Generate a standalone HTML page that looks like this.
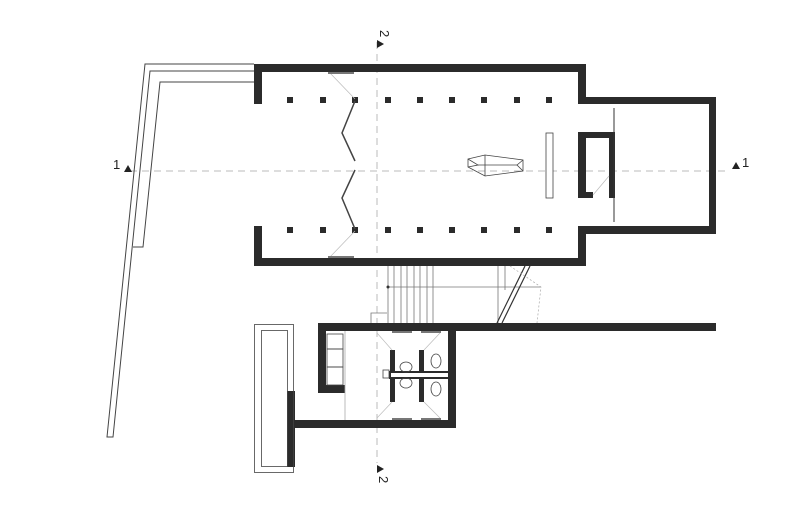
<!DOCTYPE html>
<html><head><meta charset="utf-8"><style>
html,body{margin:0;padding:0;background:#fff;}
svg{display:block;}
text{font-family:"Liberation Sans",sans-serif;font-size:13px;fill:#222;}
</style></head><body>
<svg width="800" height="532" viewBox="0 0 800 532" xmlns="http://www.w3.org/2000/svg">
<g stroke="#bbb" stroke-width="1" stroke-dasharray="7,5" fill="none">
<line x1="130" y1="171" x2="730" y2="171"/>
<line x1="377" y1="42" x2="377" y2="463"/>
</g>
<text x="113" y="169">1</text>
<polygon points="124,172 128,165 132,172" fill="#222"/>
<polygon points="732,169 736,162 740,169" fill="#222"/>
<text x="742" y="167">1</text>
<polygon points="377,40 377,48 384,44" fill="#222"/>
<text transform="translate(380,30) rotate(90)" x="0" y="0">2</text>
<polygon points="377,465 377,473 384,469" fill="#222"/>
<text transform="translate(379,476) rotate(90)" x="0" y="0">2</text>

<g stroke="#444" stroke-width="1" fill="none">
<polyline points="254,64 145,64 107,437 113,437 150,71 254,71"/>
<polyline points="254,82 160,82 143,247 133,247"/>
</g>

<g fill="#2b2b2b">
<rect x="254" y="64" width="332" height="8"/>
<rect x="254" y="64" width="8" height="40"/>
<rect x="254" y="226" width="8" height="40"/>
<rect x="254" y="258" width="332" height="8"/>
<rect x="578" y="64" width="8" height="40"/>
<rect x="578" y="97" width="138" height="7"/>
<rect x="709" y="97" width="7" height="137"/>
<rect x="578" y="226" width="138" height="8"/>
<rect x="578" y="226" width="8" height="40"/>
<rect x="578" y="132" width="8" height="66"/>
<rect x="578" y="132" width="37" height="6"/>
<rect x="609" y="132" width="6" height="45"/>
<rect x="609" y="176" width="6" height="22"/>
<rect x="578" y="192" width="15" height="6"/>
</g>
<line x1="614" y1="108" x2="614" y2="222" stroke="#333" stroke-width="1"/>
<line x1="593" y1="195" x2="609" y2="176" stroke="#bbb" stroke-width="0.7"/>

<g fill="#2b2b2b">
<rect x="287" y="97" width="6" height="6"/><rect x="320" y="97" width="6" height="6"/><rect x="352" y="97" width="6" height="6"/><rect x="385" y="97" width="6" height="6"/><rect x="417" y="97" width="6" height="6"/><rect x="449" y="97" width="6" height="6"/><rect x="481" y="97" width="6" height="6"/><rect x="514" y="97" width="6" height="6"/><rect x="546" y="97" width="6" height="6"/>
<rect x="287" y="227" width="6" height="6"/><rect x="320" y="227" width="6" height="6"/><rect x="352" y="227" width="6" height="6"/><rect x="385" y="227" width="6" height="6"/><rect x="417" y="227" width="6" height="6"/><rect x="449" y="227" width="6" height="6"/><rect x="481" y="227" width="6" height="6"/><rect x="514" y="227" width="6" height="6"/><rect x="546" y="227" width="6" height="6"/>
</g>
<g stroke="#444" stroke-width="1.5" fill="none">
<polyline points="355,101 342,133 355,161"/>
<polyline points="355,170 342,198 355,229"/>
</g>
<g stroke="#bbb" stroke-width="0.7">
<line x1="330" y1="73" x2="355" y2="99"/>
<line x1="330" y1="257" x2="355" y2="231"/>
</g>
<g stroke="#777" stroke-width="2">
<line x1="328" y1="73" x2="354" y2="73"/>
<line x1="328" y1="257" x2="354" y2="257"/>
</g>
<g stroke="#444" stroke-width="0.8" fill="none">
<polygon points="468,159 485,155 523,160 523,171 485,176 468,167"/>
<polyline points="468,159 478,165 468,167"/>
<polyline points="523,160 517,165 523,171"/>
<line x1="478" y1="165" x2="517" y2="165"/>
<line x1="485" y1="155" x2="485" y2="176"/>
</g>
<rect x="546" y="133" width="7" height="65" fill="#fff" stroke="#444" stroke-width="0.8"/>

<g stroke="#777" stroke-width="0.8" fill="none">
<line x1="388" y1="266" x2="388" y2="323"/><line x1="394" y1="266" x2="394" y2="323"/><line x1="401" y1="266" x2="401" y2="323"/><line x1="407" y1="266" x2="407" y2="323"/><line x1="414" y1="266" x2="414" y2="323"/><line x1="420" y1="266" x2="420" y2="323"/><line x1="427" y1="266" x2="427" y2="323"/><line x1="433" y1="266" x2="433" y2="323"/>
<line x1="498" y1="266" x2="498" y2="323"/><line x1="505" y1="266" x2="505" y2="290"/>
<line x1="388" y1="287" x2="541" y2="287"/>
<polyline points="371,323 371,313 387,313"/>
</g>
<circle cx="388" cy="287" r="1.5" fill="#333"/>
<g stroke="#333" stroke-width="1.2">
<line x1="525" y1="266" x2="497" y2="323"/>
<line x1="530" y1="266" x2="502" y2="323"/>
</g>
<polyline points="510,266 541,287 537,323" stroke="#aaa" stroke-width="0.7" stroke-dasharray="2,2" fill="none"/>

<g fill="#2b2b2b">
<rect x="318" y="323" width="398" height="8"/>
<rect x="318" y="323" width="8" height="70"/>
<rect x="318" y="385" width="27" height="8"/>
<rect x="448" y="323" width="8" height="105"/>
<rect x="287" y="420" width="169" height="8"/>
<rect x="287" y="391" width="8" height="76"/>
<rect x="390" y="350" width="5" height="52"/>
<rect x="419" y="350" width="5" height="52"/>
</g>
<rect x="390" y="372" width="59" height="6" fill="#fff" stroke="#2b2b2b" stroke-width="2"/>
<g stroke="#444" stroke-width="0.8" fill="none">
<rect x="254.5" y="324.5" width="39" height="148"/>
<rect x="261.5" y="330.5" width="26" height="136"/>
<rect x="327" y="334" width="16" height="15"/>
<rect x="327" y="349" width="16" height="18"/>
<rect x="327" y="367" width="16" height="18"/>
<line x1="345" y1="331" x2="345" y2="420" stroke="#aaa"/>
<ellipse cx="406" cy="367" rx="6" ry="5"/>
<ellipse cx="406" cy="383" rx="6" ry="5"/>
<ellipse cx="436" cy="361" rx="5" ry="7"/>
<ellipse cx="436" cy="389" rx="5" ry="7"/>
<rect x="383" y="370" width="6" height="8"/>
</g>
<g stroke="#bbb" stroke-width="0.7">
<line x1="377" y1="333" x2="392" y2="350"/><line x1="440" y1="333" x2="424" y2="350"/>
<line x1="377" y1="418" x2="392" y2="402"/><line x1="440" y1="418" x2="424" y2="402"/>
</g>
<g stroke="#777" stroke-width="2">
<line x1="392" y1="332" x2="412" y2="332"/><line x1="421" y1="332" x2="441" y2="332"/>
<line x1="392" y1="419" x2="412" y2="419"/><line x1="421" y1="419" x2="441" y2="419"/>
</g>
</svg>
</body></html>
